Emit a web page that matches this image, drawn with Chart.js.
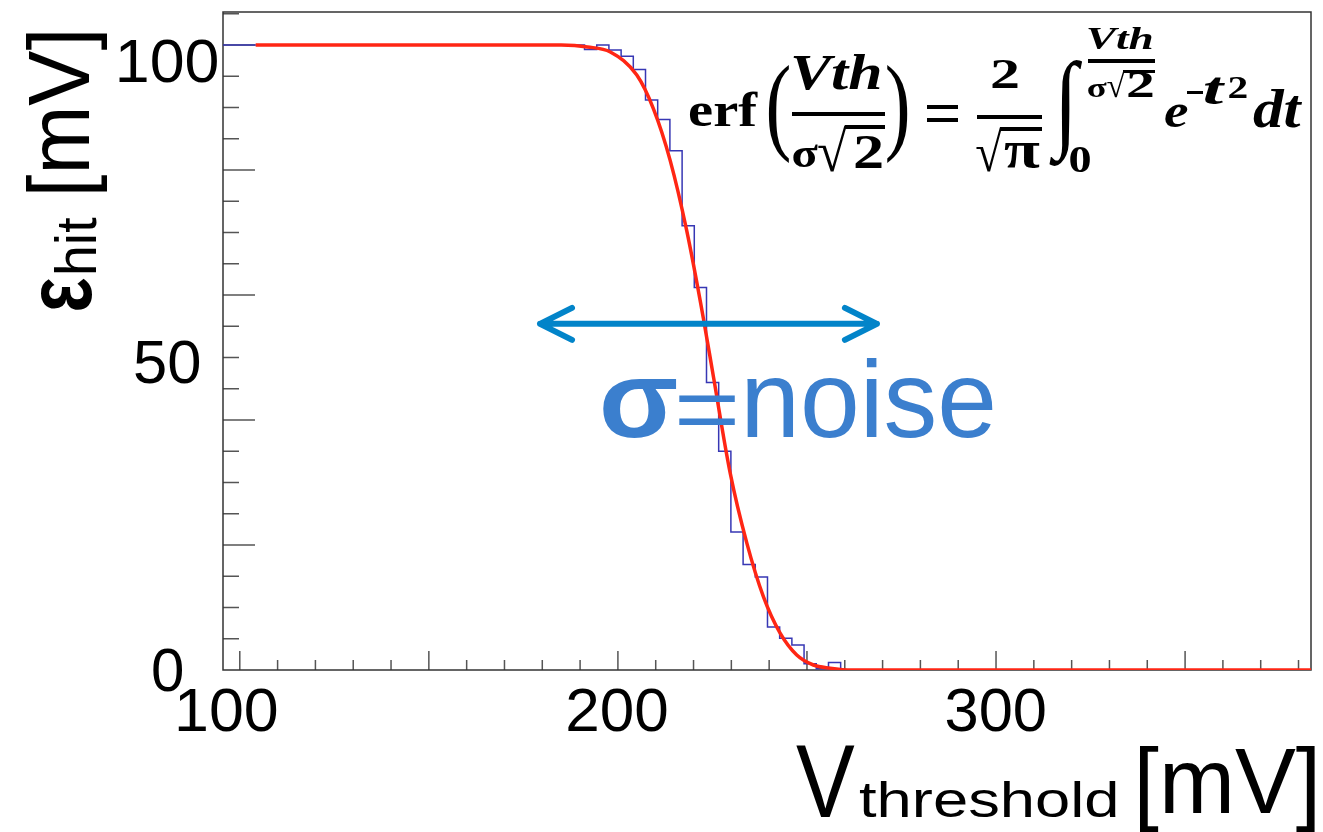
<!DOCTYPE html>
<html>
<head>
<meta charset="utf-8">
<script src="https://cdn.jsdelivr.net/npm/chart.js@4.4.1/dist/chart.umd.min.js"></script>
<style>
  html, body { margin: 0; padding: 0; background: #fff; overflow: hidden; }
</style>
</head>
<body>
<canvas id="erf_chart" width="1323" height="832"></canvas>
<script>
/** DATA **/
// axis ranges (mV / %)
const xMin = 95.56, xMax = 383.3
const yMin = 0, yMax = 105.3

// histogram (blue steps): bin edges and contents
const binEdges = [95.56, 191.17, 194.40, 197.62, 200.85, 204.07, 207.30, 210.52, 213.75, 216.98,
    220.20, 223.43, 226.65, 229.88, 233.11, 236.33, 239.56, 242.78, 246.01, 249.23,
    252.46, 255.69, 258.91, 383.3]
const binCounts = [100, 99.3, 100, 99.2, 98.2, 96.1, 91.2, 88.1, 83.1, 71.1,
    61.2, 46.0, 35.0, 22.1, 16.9, 14.9, 6.9, 5.1, 4.0, 1.0,
    0.2, 1.2, 0]

// erf fit (red curve)
const fitX = [104.2, 150, 185, 192, 198, 205, 209.4, 213.8, 218.2, 222.6, 225.3, 229.7, 234.1, 238.5, 242.9, 247.3, 251.7, 256.1, 262, 300, 383.3]
const fitY = [100, 100, 100, 99.7, 98.9, 95.2, 89.8, 81.6, 70.3, 56.3, 46.8, 31.5, 20.3, 11.7, 5.9, 2.4, 0.8, 0.3, 0, 0, 0]

// tick labels
const xTickValues = [100, 200, 300]
const xTickLabels = ['100', '200', '300']
const yTickValues = [0, 50, 100]
const yTickLabels = ['0', '50', '100']

const SANS = '"Liberation Sans", Arial, sans-serif'
const SERIF = '"Liberation Serif", "DejaVu Serif", serif'

// draw a string so that its ink box fills (x0,y0)-(x1,y1)
function boxText(ctx, str, font, x0, y0, x1, y1) {
    ctx.save()
    ctx.font = font
    ctx.textAlign = 'left'
    ctx.textBaseline = 'alphabetic'
    const m = ctx.measureText(str)
    const bw = m.actualBoundingBoxLeft + m.actualBoundingBoxRight
    const bh = m.actualBoundingBoxAscent + m.actualBoundingBoxDescent
    ctx.translate(x0, y0)
    ctx.scale((x1 - x0) / bw, (y1 - y0) / bh)
    ctx.fillText(str, m.actualBoundingBoxLeft, m.actualBoundingBoxAscent)
    ctx.restore()
}

// same, text reading bottom to top
function boxTextUp(ctx, str, font, x0, y0, x1, y1) {
    ctx.save()
    ctx.translate(x0, y1)
    ctx.rotate(-Math.PI / 2)
    boxText(ctx, str, font, 0, 0, y1 - y0, x1 - x0)
    ctx.restore()
}

const decor = {
    id: 'decor',
    beforeDatasetsDraw(chart) {
        const ctx = chart.ctx, a = chart.chartArea
        const xs = chart.scales.x, ys = chart.scales.y
        ctx.save()
        ctx.strokeStyle = '#555'
        ctx.lineWidth = 1.5
        ctx.beginPath()
        // inward ticks, ROOT style
        for (let v = 100; v <= xMax; v += 10) {
            const px = xs.getPixelForValue(v)
            const len = (v % 50 === 0) ? 19 : 10
            ctx.moveTo(px, a.bottom)
            ctx.lineTo(px, a.bottom - len)
        }
        for (let v = 5; v <= yMax; v += 5) {
            const py = ys.getPixelForValue(v)
            const len = (v % 20 === 0) ? 32 : 16
            ctx.moveTo(a.left, py)
            ctx.lineTo(a.left + len, py)
        }
        ctx.stroke()
        ctx.strokeStyle = '#333'
        ctx.strokeRect(a.left, a.top, a.right - a.left, a.bottom - a.top)
        ctx.restore()
    },
    afterDraw(chart) {
        const ctx = chart.ctx
        const xs = chart.scales.x, ys = chart.scales.y
        ctx.save()
        ctx.fillStyle = '#000'

        /** tick labels **/
        const digitW = [0, 30, 65, 99]
        const xShift = [-12, 0, 0]
        xTickValues.forEach(function (v, i) {
            const cx = xs.getPixelForValue(v) + xShift[i]
            const w = digitW[xTickLabels[i].length]
            boxText(ctx, xTickLabels[i], '60px ' + SANS, cx - w / 2, 688, cx + w / 2, 732)
        })
        const yRight = [183, 200, 218]
        const yShift = [0, 4.5, 16]
        yTickValues.forEach(function (v, i) {
            const cy = ys.getPixelForValue(v) + yShift[i]
            const w = digitW[yTickLabels[i].length]
            boxText(ctx, yTickLabels[i], '60px ' + SANS, yRight[i] - w, cy - 22, yRight[i], cy + 22)
        })

        /** axis titles **/
        boxText(ctx, 'V', '100px ' + SANS, 796, 745, 855, 817)
        boxText(ctx, 'threshold', '52px ' + SANS, 859, 780, 1116, 818)
        boxText(ctx, '[mV]', '100px ' + SANS, 1140, 745, 1315, 832)

        boxTextUp(ctx, 'ε', 'bold 90px ' + SANS, 40, 278, 92, 310)
        boxTextUp(ctx, 'hit', '56px ' + SANS, 55, 217, 97, 273)
        boxTextUp(ctx, '[mV]', '90px ' + SANS, 25, 33, 108, 192)

        /** formula **/
        const B = 'bold 60px ' + SERIF, BI = 'italic bold 60px ' + SERIF, R = '60px ' + SERIF
        const pieces = [
            ['erf', B, 690, 92, 758, 127],
            ['(', R, 768, 65, 790, 163],
            ['Vth', BI, 793, 55, 880, 90],
            ['σ', B, 793, 145, 818, 168],
            ['√', B, 818, 125, 847, 172],
            ['2', B, 855, 137, 882, 168],
            [')', R, 886, 65, 908, 163],
            ['2', B, 992, 60, 1018, 88],
            ['√', B, 976, 127, 1002, 172],
            ['π', B, 1004, 143, 1040, 168],
            ['∫', R, 1050, 60, 1083, 168],
            ['0', B, 1070, 148, 1090, 173],
            ['Vth', BI, 1088, 28, 1152, 50],
            ['σ', B, 1088, 82, 1107, 97],
            ['√', B, 1107, 70, 1125, 98],
            ['2', B, 1128, 73, 1153, 97],
            ['e', BI, 1165, 105, 1188, 128],
            ['t', BI, 1204, 78, 1226, 105],
            ['2', B, 1229, 78, 1247, 98],
            ['dt', BI, 1253, 90, 1303, 128],
        ]
        pieces.forEach(function (p) {
            boxText(ctx, p[0], p[1], p[2], p[3], p[4], p[5])
        })
        const bars = [
            [792, 112, 885, 116], [845, 125, 885, 129],
            [927, 105, 958, 109], [927, 118, 958, 122],
            [977, 115, 1042, 119], [1000, 127, 1042, 131],
            [1088, 59, 1155, 63], [1123, 70, 1155, 73],
            [1187, 91, 1203, 94],
        ]
        bars.forEach(function (r) {
            ctx.fillRect(r[0], r[1], r[2] - r[0], r[3] - r[1])
        })

        /** sigma arrow **/
        const ax0 = xs.getPixelForValue(179.4), ax1 = xs.getPixelForValue(268.5)
        const ay = ys.getPixelForValue(55.4)
        ctx.strokeStyle = 'rgb(2, 132, 201)'
        ctx.lineWidth = 6
        ctx.lineCap = 'round'
        ctx.lineJoin = 'round'
        ctx.beginPath()
        ctx.moveTo(ax0, ay)
        ctx.lineTo(ax1, ay)
        ctx.moveTo(ax0 + 32, ay - 16)
        ctx.lineTo(ax0, ay)
        ctx.lineTo(ax0 + 32, ay + 16)
        ctx.moveTo(ax1 - 32, ay - 16)
        ctx.lineTo(ax1, ay)
        ctx.lineTo(ax1 - 32, ay + 16)
        ctx.stroke()

        ctx.fillStyle = 'rgb(59, 127, 206)'
        boxText(ctx, 'σ', 'bold 110px ' + SANS, 603, 378, 677, 438)
        boxText(ctx, '=', '110px ' + SANS, 679, 396, 735, 425)
        boxText(ctx, 'noise', '110px ' + SANS, 747, 358, 993, 438)
        ctx.restore()
    }
}

/** CHART **/
const histPoints = binCounts.map(function (c, i) { return { x: binEdges[i], y: c } })
histPoints.push({ x: binEdges[binEdges.length - 1], y: binCounts[binCounts.length - 1] })

const fitPoints = fitX.map(function (x, i) { return { x: x, y: fitY[i] } })

const erf_chart = new Chart(
    document.getElementById('erf_chart').getContext('2d'),
    {
        type: 'line',
        data: {
            datasets: [{
                label: 'fit',
                data: fitPoints,
                borderColor: 'rgb(255, 38, 20)',
                borderWidth: 3.5,
                pointRadius: 0,
                cubicInterpolationMode: 'monotone',
                fill: false,
                order: 0,
            }, {
                label: 'hist',
                data: histPoints,
                borderColor: 'rgb(55, 55, 180)',
                borderWidth: 1.5,
                pointRadius: 0,
                stepped: 'before',
                fill: false,
                order: 1,
            }]
        },
        options: {
            responsive: false,
            animation: false,
            devicePixelRatio: 1,
            layout: {
                padding: { left: 223, right: 12, top: 12, bottom: 162 }
            },
            plugins: {
                legend: { display: false },
                tooltip: { enabled: false },
            },
            scales: {
                x: { type: 'linear', min: xMin, max: xMax, display: false },
                y: { type: 'linear', min: yMin, max: yMax, display: false },
            },
        },
        plugins: [decor]
    }
)
</script>
</body>
</html>
